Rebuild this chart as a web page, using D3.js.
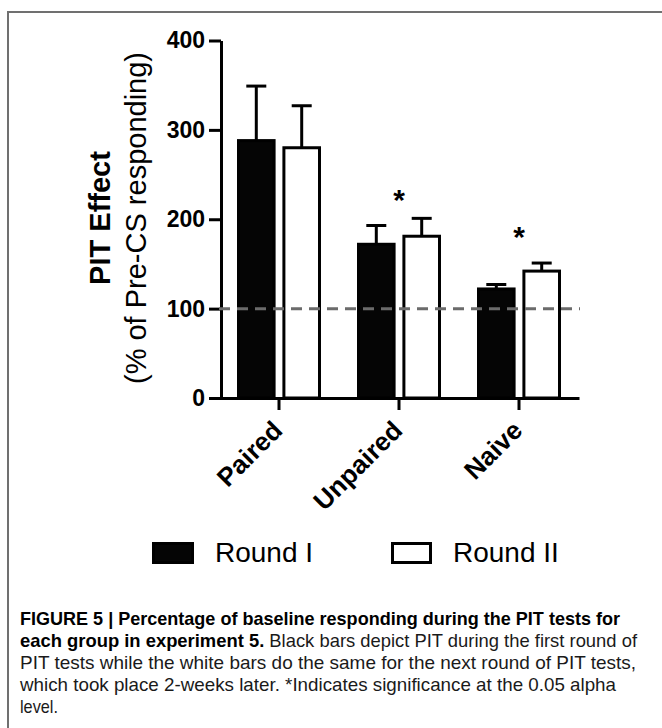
<!DOCTYPE html>
<html>
<head>
<meta charset="utf-8">
<script src="https://cdn.jsdelivr.net/npm/d3@7"></script>
<style>
  body { margin: 0; background: #fff; }
  svg { display: block; }
</style>
</head>
<body>
<div id="chart-container"></div>
<script>
// data
const groups = ["Paired", "Unpaired", "Naive"];
const rounds = ["Round I", "Round II"];
const roundOneMeans = [288, 172, 122];
const roundTwoMeans = [280, 181, 142];
const roundOneSem = [61, 21, 5];
const roundTwoSem = [47, 20, 9];
const starValues = [null, 229, 188]; // where the * sits, in y units
const yTicks = [0, 100, 200, 300, 400];
const baselineValue = 100;

const captionLines = [
    [["FIGURE 5 | Percentage of baseline responding during the PIT tests for", true]],
    [["each group in experiment 5.", true], [" Black bars depict PIT during the first round of", false]],
    [["PIT tests while the white bars do the same for the next round of PIT tests,", false]],
    [["which took place 2-weeks later. *Indicates significance at the 0.05 alpha", false]],
    [["level.", false]]
];
const captionWidths = [600, 617, 616, 596, 38];

const width = 662;
const height = 728;
const font = "'Liberation Sans', Arial, Helvetica, sans-serif";

const svg = d3.select("#chart-container")
    .append("svg")
    .attr("width", width)
    .attr("height", height)
    .style("font-family", font);

// figure frame (runs off the right and bottom)
svg.append("rect")
    .attr("x", 8)
    .attr("y", 12)
    .attr("width", 700)
    .attr("height", 800)
    .attr("fill", "none")
    .attr("stroke", "#707070")
    .attr("stroke-width", 2);

const y = d3.scaleLinear().domain([0, 400]).range([398, 40.5]);
const x0 = d3.scaleBand().domain(groups).range([219, 579]);
const x1 = d3.scaleBand().domain(rounds).range([-42, 42]).paddingInner(0.15);

const data = groups.map((g, i) => ({
    group: g,
    values: [
        { round: rounds[0], mean: roundOneMeans[i], sem: roundOneSem[i] },
        { round: rounds[1], mean: roundTwoMeans[i], sem: roundTwoSem[i] }
    ],
    star: starValues[i]
}));

// y axis
const yAxis = svg.append("g")
    .attr("transform", "translate(221,0)")
    .call(d3.axisLeft(y).tickValues(yTicks).tickSize(12).tickPadding(4).tickSizeOuter(0));
yAxis.select(".domain").attr("stroke-width", 3).attr("stroke", "#000");
yAxis.selectAll(".tick line").attr("stroke-width", 3).attr("stroke", "#000");
yAxis.selectAll(".tick text")
    .attr("fill", "#000")
    .style("font-family", font)
    .style("font-size", "23px")
    .style("font-weight", "bold");

// x axis
const xAxis = svg.append("g")
    .attr("transform", "translate(0,398)")
    .call(d3.axisBottom(x0).tickSize(12).tickSizeOuter(0));
xAxis.select(".domain").attr("stroke-width", 3).attr("stroke", "#000");
xAxis.selectAll(".tick line").attr("stroke-width", 3).attr("stroke", "#000");
xAxis.selectAll(".tick text")
    .attr("fill", "#000")
    .attr("x", 0)
    .attr("y", 0)
    .attr("dy", 0)
    .attr("text-anchor", "end")
    .attr("transform", "translate(5,34) rotate(-45)")
    .style("font-family", font)
    .style("font-size", "26px")
    .style("font-weight", "bold");

// bars
const groupG = svg.selectAll(".group")
    .data(data)
    .enter()
    .append("g")
    .attr("class", "group")
    .attr("transform", d => `translate(${x0(d.group) + x0.bandwidth() / 2},0)`);

groupG.selectAll("rect")
    .data(d => d.values)
    .enter()
    .append("rect")
    .attr("x", d => x1(d.round) + 1.5)
    .attr("width", x1.bandwidth() - 3)
    .attr("y", d => y(d.mean))
    .attr("height", d => y(0) - y(d.mean))
    .attr("fill", d => d.round === rounds[0] ? "#050505" : "#fff")
    .attr("stroke", "#000")
    .attr("stroke-width", 3);

// error bars
const err = groupG.selectAll(".err")
    .data(d => d.values)
    .enter()
    .append("g")
    .attr("class", "err")
    .attr("transform", d => `translate(${x1(d.round) + x1.bandwidth() / 2},0)`);

err.append("line")
    .attr("x1", 0).attr("x2", 0)
    .attr("y1", d => y(d.mean))
    .attr("y2", d => y(d.mean + d.sem))
    .attr("stroke", "#000")
    .attr("stroke-width", 3);

err.append("line")
    .attr("x1", -10).attr("x2", 10)
    .attr("y1", d => y(d.mean + d.sem))
    .attr("y2", d => y(d.mean + d.sem))
    .attr("stroke", "#000")
    .attr("stroke-width", 3);

// significance stars
groupG.filter(d => d.star !== null)
    .append("text")
    .attr("x", 0)
    .attr("y", d => y(d.star) + 17)
    .attr("text-anchor", "middle")
    .style("font-size", "30px")
    .style("font-weight", "bold")
    .text("*");

// 100% baseline
svg.append("line")
    .attr("x1", 219)
    .attr("x2", 580)
    .attr("y1", y(baselineValue))
    .attr("y2", y(baselineValue))
    .attr("stroke", "#6b6b6b")
    .attr("stroke-width", 3)
    .attr("stroke-dasharray", "11,7");

// y axis title
svg.append("text")
    .attr("transform", "translate(110,218) rotate(-90)")
    .attr("text-anchor", "middle")
    .style("font-size", "29px")
    .style("font-weight", "bold")
    .text("PIT Effect");

svg.append("text")
    .attr("transform", "translate(146,218) rotate(-90)")
    .attr("text-anchor", "middle")
    .style("font-size", "29px")
    .text("(% of Pre-CS responding)");

// legend
const legendX = [152, 391];
const legend = svg.selectAll(".legend")
    .data(rounds)
    .enter()
    .append("g")
    .attr("class", "legend")
    .attr("transform", (d, i) => `translate(${legendX[i]},542)`);

legend.append("rect")
    .attr("x", 1.5)
    .attr("y", 1.5)
    .attr("width", (d, i) => i === 0 ? 39 : 38)
    .attr("height", 19)
    .attr("fill", (d, i) => i === 0 ? "#050505" : "#fff")
    .attr("stroke", "#000")
    .attr("stroke-width", 3);

legend.append("text")
    .attr("x", (d, i) => i === 0 ? 63 : 62)
    .attr("y", 20)
    .style("font-size", "28px")
    .text(d => d);

// caption
const caption = svg.selectAll(".caption")
    .data(captionLines)
    .enter()
    .append("text")
    .attr("class", "caption")
    .attr("x", 20)
    .attr("y", (d, i) => 625 + i * 22)
    .attr("textLength", (d, i) => captionWidths[i])
    .attr("lengthAdjust", "spacingAndGlyphs")
    .style("font-size", "19px")
    .attr("fill", "#1a1a1a");

caption.selectAll("tspan")
    .data(d => d)
    .enter()
    .append("tspan")
    .style("font-weight", d => d[1] ? "bold" : "normal")
    .attr("fill", d => d[1] ? "#000" : "#1a1a1a")
    .text(d => d[0]);
</script>
</body>
</html>
